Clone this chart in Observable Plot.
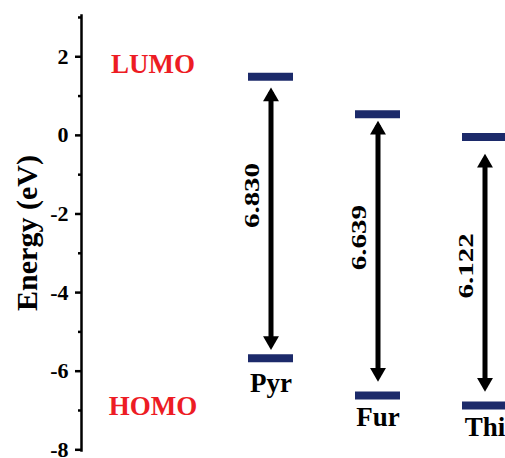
<!DOCTYPE html>
<html><head><meta charset="utf-8">
<script src="https://cdn.jsdelivr.net/npm/d3@7"></script>
<script src="https://cdn.jsdelivr.net/npm/@observablehq/plot@0.6"></script>
<style>body{margin:0;background:#fff}</style>
</head><body><div id="chart"></div>
<script>
const names = ["Pyr", "Fur", "Thi"];
const lumo = [1.49, 0.54, -0.04];
const homo = [-5.67, -6.62, -6.87];
const gaps = ["6.830", "6.639", "6.122"];
const arrowTop = [1.27, 0.42, -0.42];
const arrowBottom = [-5.51, -6.32, -6.57];
const gapLabelY = [-1.53, -2.6, -3.32];
const nameLabelY = [-6.53, -7.4, -7.65];
const levelNames = ["LUMO", "HOMO"];
const levelLabelY = [1.8, -6.9];
const majorTicks = [-8, -6, -4, -2, 0, 2];
const minorTicks = [-7, -5, -3, -1, 1, 3];
const yLabel = "Energy (eV)";

const rows = names.map((n, i) => ({name: n, lumo: lumo[i], homo: homo[i], gap: gaps[i], top: arrowTop[i], bottom: arrowBottom[i], gy: gapLabelY[i], ny: nameLabelY[i]}));
const levels = levelNames.map((t, i) => ({t, y: levelLabelY[i]}));
const serif = "'Liberation Serif', 'Times New Roman', serif";
const navy = "#1c2a6a", red = "#ed1c24";

const chart = Plot.plot({
  width: 505, height: 458, marginLeft: 81, marginRight: 0, marginTop: 15, marginBottom: 8,
  style: {fontFamily: serif, fontWeight: "bold", background: "#fff", overflow: "hidden"},
  x: {type: "band", domain: names, range: [183.7, 570.3], padding: 0.58, axis: null},
  y: {domain: [-8, 3.05], range: [449.3, 15], axis: null},
  marks: [
    Plot.frame({anchor: "left", strokeWidth: 2.5, stroke: "black"}),
    Plot.axisY({ticks: majorTicks, tickSize: 6, tickPadding: 7, tickFormat: d => String(d), strokeWidth: 2.5, stroke: "black", fill: "black", fontSize: 22, fontWeight: "bold", fontFamily: serif, label: null}),
    Plot.axisY({ticks: minorTicks, tickSize: 3, tickFormat: () => "", strokeWidth: 2.5, stroke: "black", label: null}),
    Plot.text([yLabel], {frameAnchor: "left", text: d => d, rotate: -90, dx: -54, textAnchor: "middle", fontSize: 30, fontWeight: "bold", fontFamily: serif, fill: "black"}),
    Plot.text(levels, {frameAnchor: "left", y: "y", text: "t", dx: 71.5, textAnchor: "middle", fill: red, fontSize: 27, fontWeight: "bold", fontFamily: serif}),
    Plot.tickY(rows, {x: "name", y: "lumo", stroke: navy, strokeWidth: 8}),
    Plot.tickY(rows, {x: "name", y: "homo", stroke: navy, strokeWidth: 8}),
    Plot.ruleX(rows, {x: "name", y1: "top", y2: "bottom", stroke: "black", strokeWidth: 5, insetTop: 7, insetBottom: 7}),
    Plot.dot(rows, {x: "name", y: "top", symbol: "triangle", r: 5.9, fill: "black", stroke: "none", dy: 11.1, ariaLabel: "head"}),
    Plot.dot(rows, {x: "name", y: "bottom", symbol: "triangle", r: 5.9, fill: "black", stroke: "none", rotate: 180, dy: -11.1, ariaLabel: "head"}),
    Plot.text(rows, {x: "name", y: "gy", text: "gap", rotate: -90, dx: -18.5, fontSize: 21, fontWeight: "bold", fontFamily: serif, fill: "black"}),
    Plot.text(rows, {x: "name", y: "ny", text: "name", lineAnchor: "bottom", fontSize: 27, fontWeight: "bold", fontFamily: serif, fill: "black"})
  ]
});
document.getElementById("chart").appendChild(chart);
d3.select(chart).selectAll("text")
  .filter(function () { return gaps.includes(this.textContent); })
  .attr("transform", function () { return (this.getAttribute("transform") || "") + " scale(1.38,1)"; });
d3.select(chart).selectAll('g[aria-label="head"] path')
  .attr("transform", function () { return (this.getAttribute("transform") || "") + " scale(1,1.2)"; });
</script>
</body></html>
